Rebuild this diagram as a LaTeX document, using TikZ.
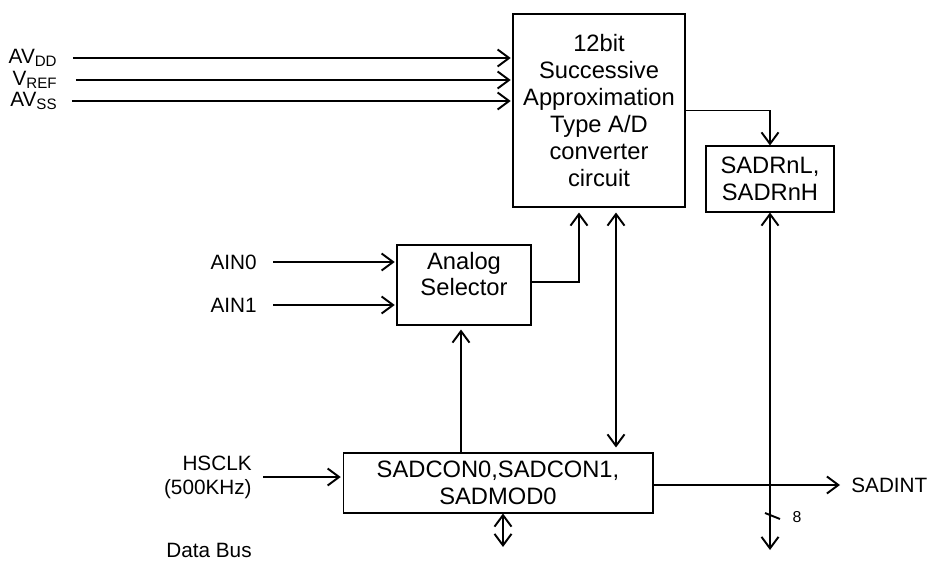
\documentclass[tikz,border=0pt]{standalone}
\usepackage{fontspec}
\setmainfont{Liberation Sans}
\usetikzlibrary{arrows.meta}
\newcommand{\lowtext}[1]{\raisebox{-1.5pt}{\fontsize{8.6}{9}\selectfont #1}}

\begin{document}
\begin{tikzpicture}[
    x=0.02cm, y=-0.02cm,
    boxtext/.style={align=center, font=\fontsize{13.5}{15.3}\selectfont},
    box/.style={rectangle, draw, line width=0.6pt, boxtext},
    lbl/.style={inner sep=0pt, align=right, font=\fontsize{11.8}{13.6}\selectfont},
    arrow/.style={-{Straight Barb[length=2.3mm, width=3.4mm]}, line width=1.1pt},
    biarrow/.style={{Straight Barb[length=2.3mm, width=3.4mm]}-{Straight Barb[length=2.3mm, width=3.4mm]}, line width=1.1pt}
]
    \useasboundingbox (0,0) rectangle (930,581);

    % blocks
    \node[box, minimum width=3.44cm, minimum height=3.86cm] (adc) at (599,110.5) {12bit\\Successive\\Approximation\\Type A/D\\converter\\circuit};
    \node[box, minimum width=2.56cm, minimum height=1.32cm] (sadr) at (770,179) {SADRnL,\\SADRnH};
    \node[box, minimum width=2.68cm, minimum height=1.6cm] (sel) at (464,285) {};
    \node[boxtext] (seltext) at (464,274) {Analog\\Selector};
    \node[box, minimum width=6.2cm, minimum height=1.2cm] (ctl) at (498,483) {SADCON0,SADCON1,\\SADMOD0};

    % signal names
    \node[lbl, anchor=east] (avdd) at (57,58) {AV\lowtext{DD}};
    \node[lbl, anchor=east] (vref) at (57,80) {V\lowtext{REF}};
    \node[lbl, anchor=east] (avss) at (57,101) {AV\lowtext{SS}};
    \node[lbl, anchor=east] (ain0) at (257,262) {AIN0};
    \node[lbl, anchor=east] (ain1) at (257,305) {AIN1};
    \node[lbl, anchor=east] (hsclk) at (252,477) {HSCLK\\(500KHz)};
    \node[lbl, anchor=east] (dbus) at (252,550) {Data Bus};
    \node[lbl, anchor=west] (sadint) at (851,485) {SADINT};
    \node[inner sep=0pt, font=\fontsize{9}{10}\selectfont] (buswidth) at (797,517) {8};
    \coordinate (dbusend) at (503,547);
    \coordinate (sadrbus) at (770,550);

    % connectors
    \draw[arrow, shorten >=1pt] ([xshift=0.32cm]avdd.east) -- (avdd.east -| adc.west);
    \draw[arrow, shorten >=1pt] ([xshift=0.38cm]vref.east) -- (vref.east -| adc.west);
    \draw[arrow, shorten >=1pt] ([xshift=0.3cm]avss.east) -- (avss.east -| adc.west);
    \draw[arrow, shorten >=1pt] ([xshift=0.32cm]ain0.east) -- (ain0.east -| sel.west);
    \draw[arrow, shorten >=1pt] ([xshift=0.32cm]ain1.east) -- (ain1.east -| sel.west);
    \draw[arrow, shorten >=1pt] ([xshift=0.22cm]hsclk.east) -- (hsclk.east -| ctl.west);
    \draw[arrow] (adc.east) -| (sadr.north);
    \draw[arrow, shorten >=0.1cm] ([yshift=0.06cm]sel.east) -| ([xshift=-0.4cm]adc.south);
    \draw[biarrow, shorten <=0.1cm, shorten >=0.1cm] ([xshift=0.34cm]adc.south) -- ([xshift=0.34cm]adc.south |- ctl.north);
    \draw[arrow, shorten >=0.08cm] ([xshift=-0.06cm]ctl.north -| sel.south) -- ([xshift=-0.06cm]sel.south);
    \draw[arrow, shorten >=0.22cm] ([yshift=-0.04cm]ctl.east) -- ([yshift=-0.04cm]ctl.east -| sadint.west);
    \draw[biarrow] (sadr.south) -- (sadrbus);
    \draw[biarrow] (ctl.south -| dbusend) -- (dbusend);
    \draw[line width=1.1pt] ([xshift=-0.1cm, yshift=0.08cm]sadrbus |- buswidth) -- ([xshift=0.2cm, yshift=-0.04cm]sadrbus |- buswidth);
\end{tikzpicture}
\end{document}
